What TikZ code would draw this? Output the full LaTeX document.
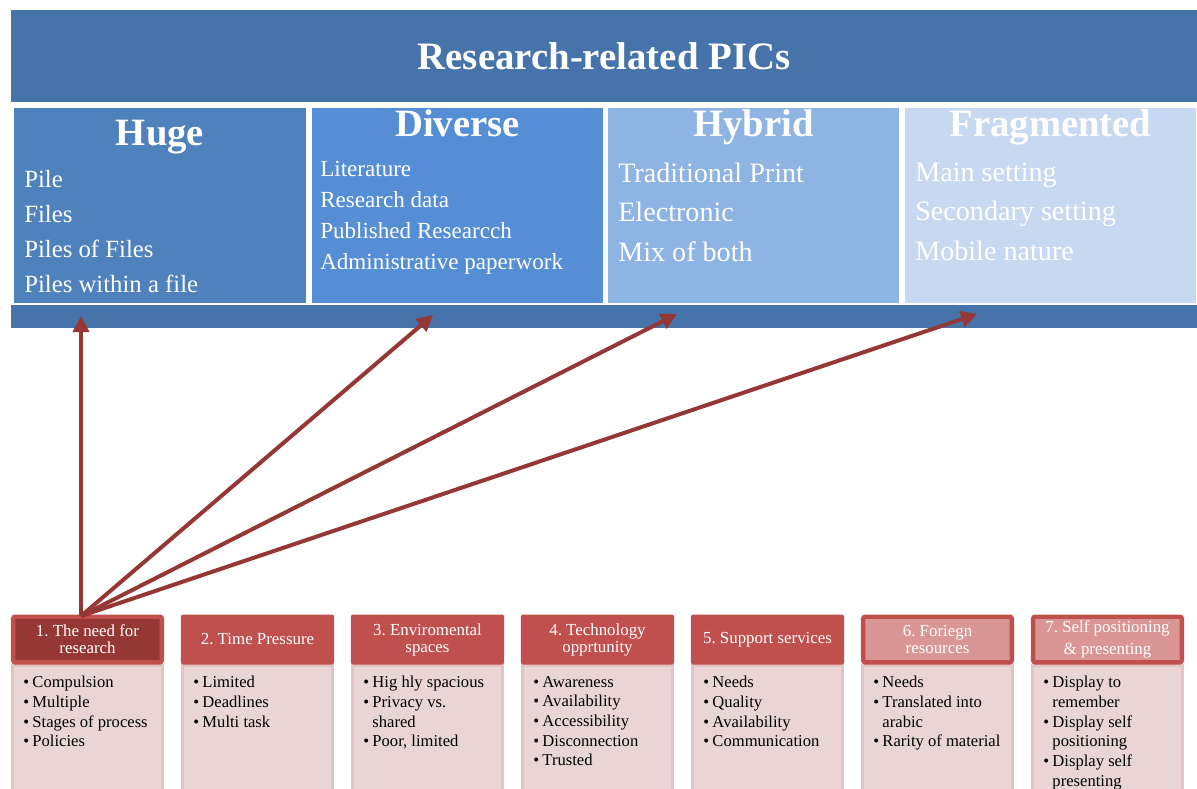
\documentclass[tikz,border=0pt]{standalone}
\usepackage{fontspec}
\setmainfont{Liberation Serif}
\usetikzlibrary{arrows.meta}
\definecolor{barblue}{HTML}{4674AA}
\definecolor{hugeblue}{HTML}{4F81BD}
\definecolor{divblue}{HTML}{558ED5}
\definecolor{hybblue}{HTML}{8EB4E3}
\definecolor{fragblue}{HTML}{C6D9F1}
\definecolor{arrred}{HTML}{953735}
\definecolor{hdred}{HTML}{C0504D}
\definecolor{dkred}{HTML}{953735}
\definecolor{ltred}{HTML}{D99694}
\definecolor{bdpink}{HTML}{EAD5D5}
\definecolor{bdline}{HTML}{E2C4C4}
\newcommand{\bulitem}{\makebox[0.23cm][l]{\textbullet}}
\newcommand{\bulind}{\hspace*{0.23cm}}
\frenchspacing

\begin{document}
\begin{tikzpicture}[x=0.025cm,y=-0.025cm,
  barbox/.style={fill=barblue,minimum width=29.65cm,inner sep=0pt},
  colbox/.style={minimum width=7.28cm,minimum height=4.875cm,inner sep=0pt},
  headtxt/.style={anchor=base,text=white,font=\bfseries\fontsize{27.5}{30}\selectfont,inner sep=0pt},
  listtxt/.style={anchor=north west,align=left,text=white,inner sep=0pt},
  hdbox/.style={rounded corners=0.05cm,fill=hdred,minimum width=3.825cm,minimum height=1.25cm,align=center,text=white,font=\fontsize{12}{12.1}\selectfont,inner sep=1pt},
  hdframe/.style={hdbox,draw=hdred,line width=0.11cm,minimum width=3.715cm,minimum height=1.14cm},
  bdbox/.style={fill=bdpink,draw=bdline,line width=0.075cm,minimum width=3.75cm,minimum height=3.125cm,inner sep=0pt},
  bdtxt/.style={anchor=north west,align=left,font=\fontsize{11.8}{14}\selectfont,inner sep=0pt},
  arr/.style={draw=arrred,line width=0.1cm,-{Triangle[length=0.4cm,width=0.4cm]}}]
\useasboundingbox (0,0) rectangle (1197,789);
\clip (0,0) rectangle (1197,789);

\node[barbox,minimum height=2.3cm,text=white,font=\bfseries\fontsize{27.6}{30}\selectfont] (title) at (604,56) {Research-related PICs};

\node[colbox,fill=hugeblue] (col1) at (160,205.5) {};
\node[colbox,fill=divblue] (col2) at (457.5,205.5) {};
\node[colbox,fill=hybblue] (col3) at (753.5,205.5) {};
\node[colbox,fill=fragblue] (col4) at (1050.5,205.5) {};
\node[barbox,minimum height=0.575cm] (base) at (604,316.5) {};

\node[headtxt] (head1) at (160,145) {Huge};
\node[headtxt] (head2) at (457.5,136) {Diverse};
\node[headtxt] (head3) at (753.5,136) {Hybrid};
\node[headtxt] (head4) at (1050.5,136) {Fragmented};

\node[listtxt,font=\fontsize{17.6}{24.9}\selectfont] (list1) at (24,170) {Pile\\Files\\Piles of Files\\Piles within a file};
\node[listtxt,font=\fontsize{16.4}{22}\selectfont] (list2) at (320,161) {Literature\\Research data\\Published Researcch\\Administrative paperwork};
\node[listtxt,font=\fontsize{20}{28.1}\selectfont] (list3) at (618,162.5) {Traditional Print\\Electronic\\Mix of both};
\node[listtxt,font=\fontsize{20}{28.1}\selectfont] (list4) at (915,162.5) {Main setting\\Secondary setting\\Mobile nature};

\node[bdbox] (body1) at (87.5,728) {};
\node[bdbox] (body2) at (257.5,728) {};
\node[bdbox] (body3) at (427.5,728) {};
\node[bdbox] (body4) at (597.5,728) {};
\node[bdbox] (body5) at (767.5,728) {};
\node[bdbox] (body6) at (937.5,728) {};
\node[bdbox] (body7) at (1107.5,728) {};

\node[hdframe,fill=dkred] (hdr1) at (87.5,639.5) {1. The need for\\research};
\node[hdbox] (hdr2) at (257.5,639.5) {2. Time Pressure};
\node[hdbox] (hdr3) at (427.5,639.5) {3. Enviromental\\spaces};
\node[hdbox] (hdr4) at (597.5,639.5) {4. Technology\\opprtunity};
\node[hdbox] (hdr5) at (767.5,639.5) {5. Support services};
\node[hdframe,fill=ltred] (hdr6) at (937.5,639.5) {6. Foriegn\\resources};
\node[hdframe,fill=ltred] (hdr7) at (1107.5,639.5) {7. Self positioning\\[4pt]\& presenting};

\node[bdtxt] (txt1) at (23,676) {\bulitem Compulsion\\\bulitem Multiple\\\bulitem Stages of process\\\bulitem Policies};
\node[bdtxt] (txt2) at (193,676) {\bulitem Limited\\\bulitem Deadlines\\\bulitem Multi task};
\node[bdtxt] (txt3) at (363,676) {\bulitem Hig hly spacious\\\bulitem Privacy vs.\\\bulind shared\\\bulitem Poor, limited};
\node[bdtxt] (txt4) at (533,676) {\bulitem Awareness\\\bulitem Availability\\\bulitem Accessibility\\\bulitem Disconnection\\\bulitem Trusted};
\node[bdtxt] (txt5) at (703,676) {\bulitem Needs\\\bulitem Quality\\\bulitem Availability\\\bulitem Communication};
\node[bdtxt] (txt6) at (873,676) {\bulitem Needs\\\bulitem Translated into\\\bulind arabic\\\bulitem Rarity of material};
\node[bdtxt] (txt7) at (1043,676) {\bulitem Display to\\\bulind remember\\\bulitem Display self\\\bulind positioning\\\bulitem Display self\\\bulind presenting};

\coordinate (src) at (81,616);
\coordinate (tip1) at (81,316);
\coordinate (tip2) at (433,315);
\coordinate (tip3) at (677,314);
\coordinate (tip4) at (977,314);
\draw[arr] (src)--(tip1);
\draw[arr] (src)--(tip2);
\draw[arr] (src)--(tip3);
\draw[arr] (src)--(tip4);
\end{tikzpicture}
\end{document}
